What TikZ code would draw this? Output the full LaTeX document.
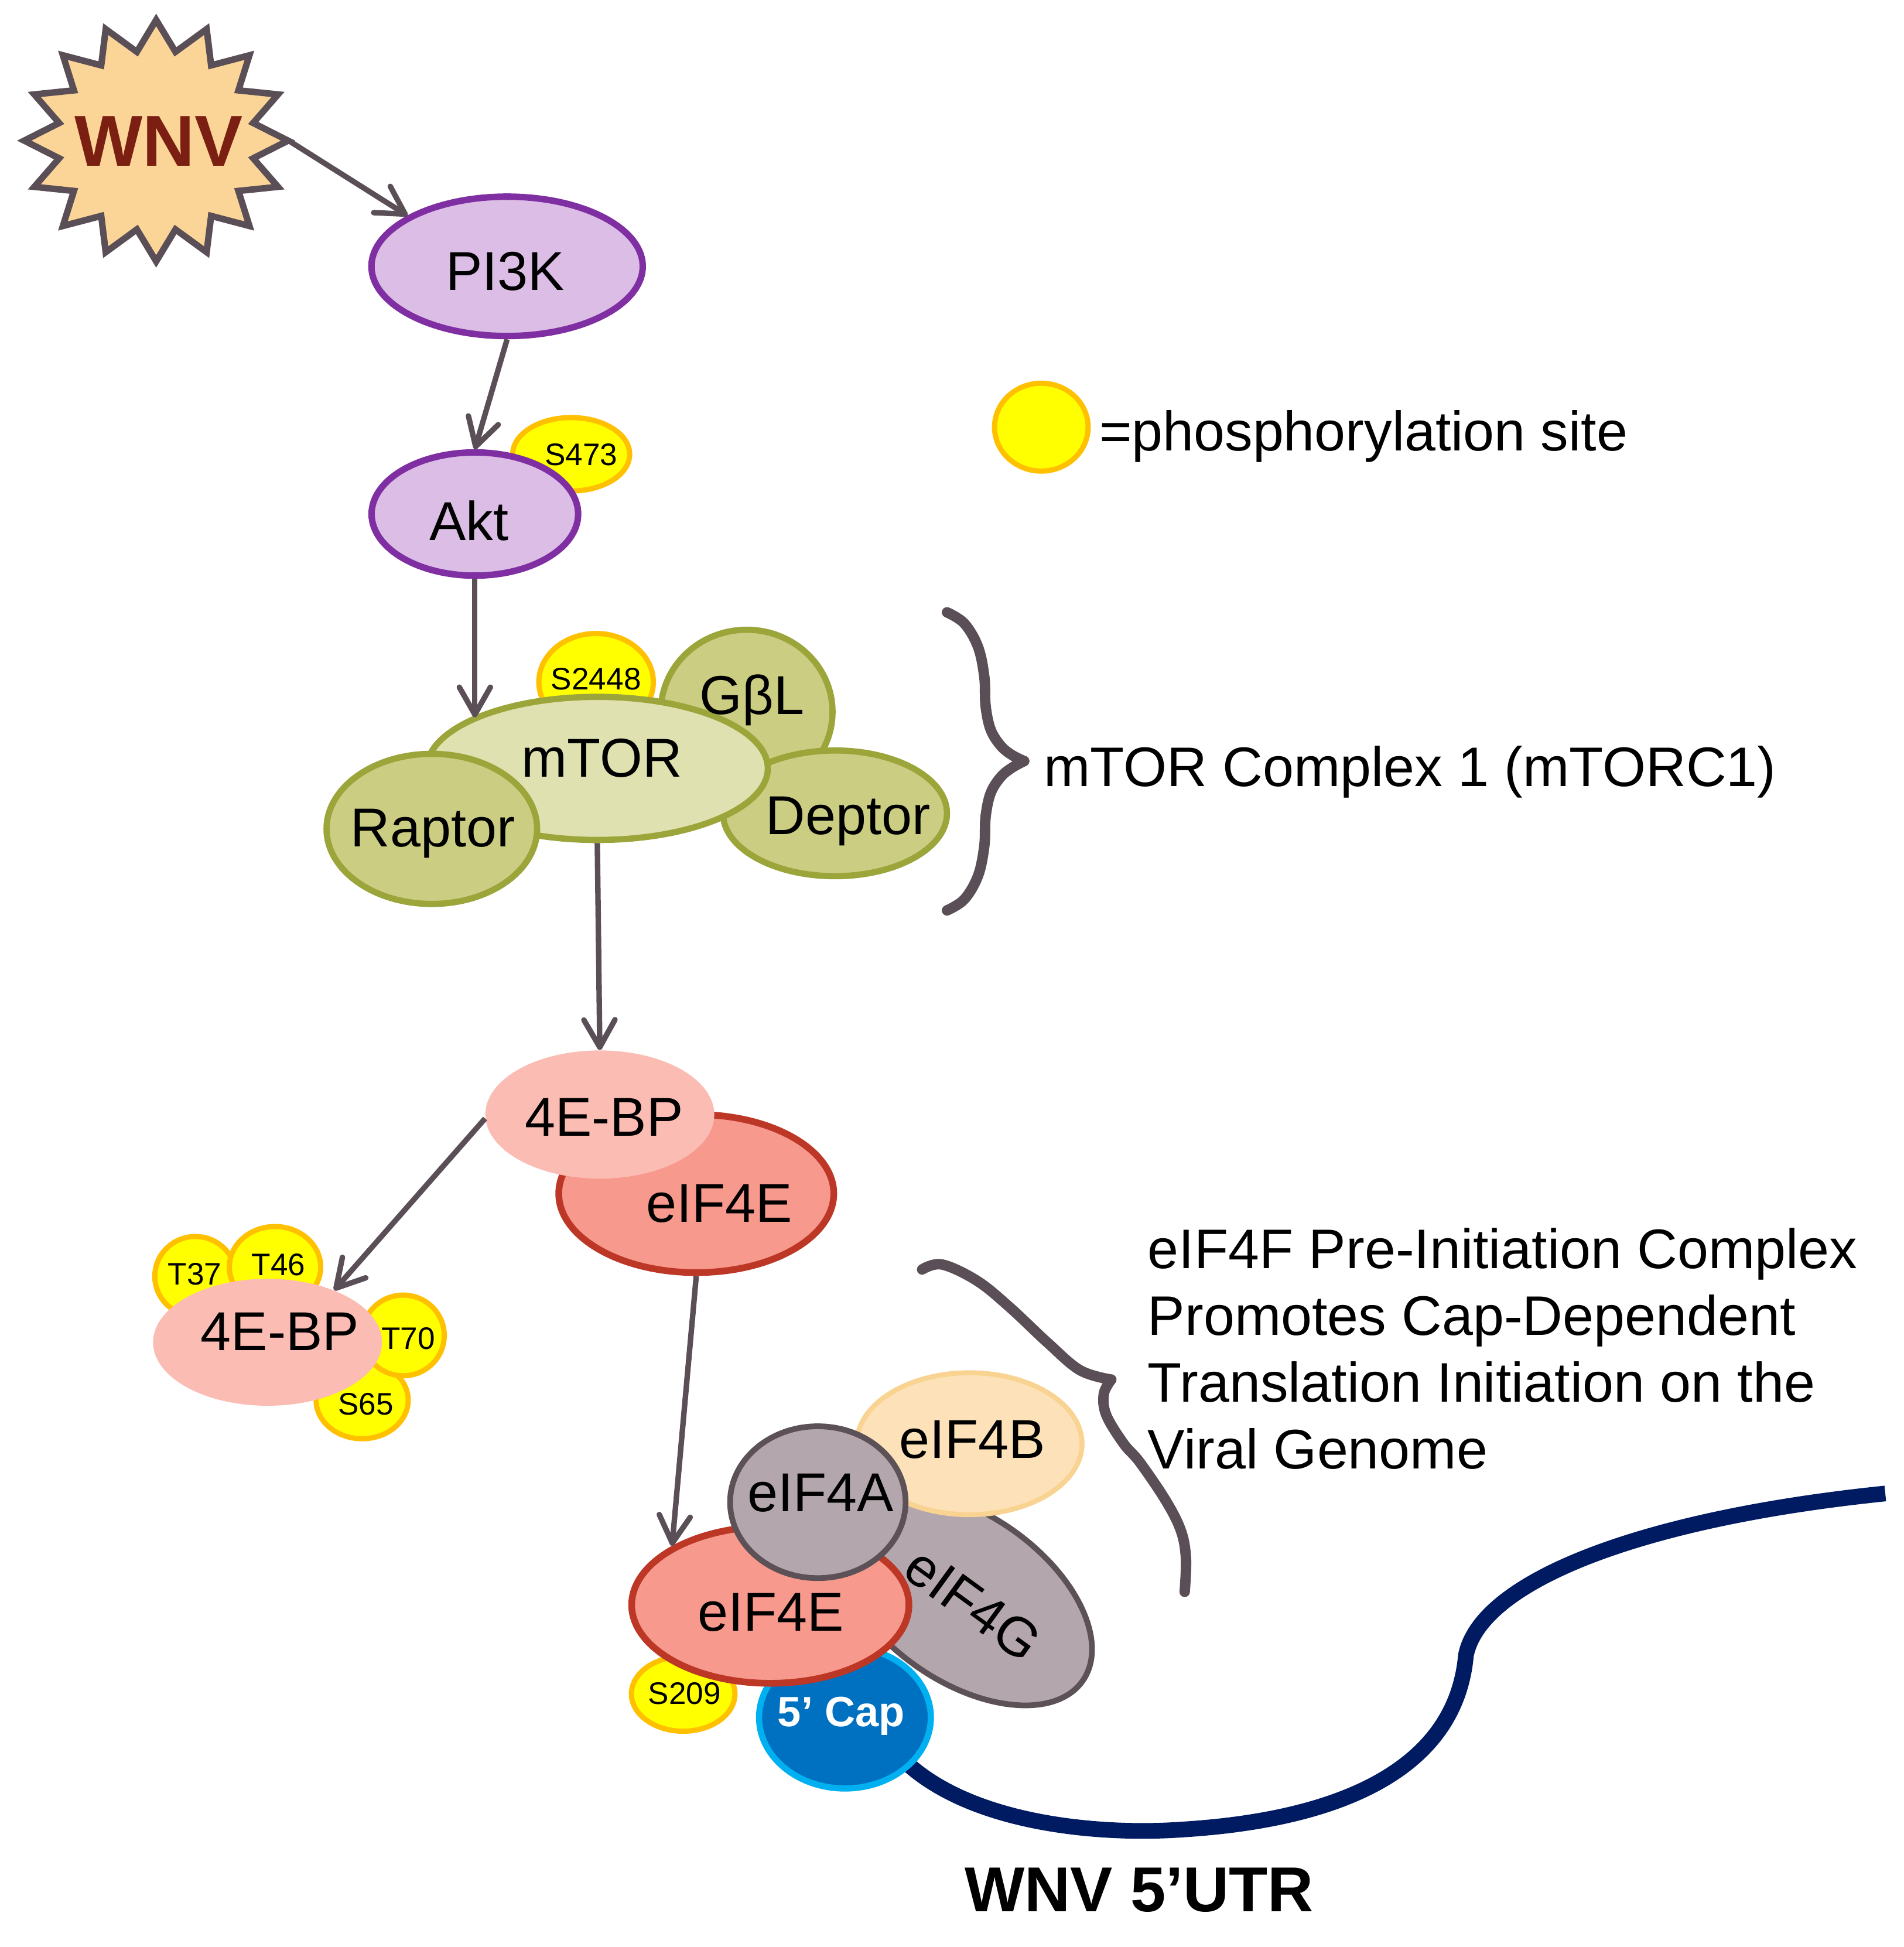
\documentclass[tikz,border=0pt]{standalone}
\usepackage{fontspec}
\setmainfont{Liberation Sans}
\usetikzlibrary{arrows.meta,shapes.geometric}
\definecolor{arrowgray}{HTML}{5A4F56}
\definecolor{starfill}{HTML}{FBD598}
\definecolor{wnvred}{HTML}{7C1F13}
\definecolor{purfill}{HTML}{DBBDE6}
\definecolor{purline}{HTML}{7F2FA2}
\definecolor{phyel}{HTML}{FFFF00}
\definecolor{phorange}{HTML}{FFC000}
\definecolor{olive}{HTML}{9BA53A}
\definecolor{mtorfill}{HTML}{DFE1B0}
\definecolor{olfill}{HTML}{CBCD82}
\definecolor{bpfill}{HTML}{FBBCB4}
\definecolor{efill}{HTML}{F7998C}
\definecolor{eline}{HTML}{BD3726}
\definecolor{grfill}{HTML}{B3A7AD}
\definecolor{grline}{HTML}{5C5157}
\definecolor{bfill}{HTML}{FDE2B9}
\definecolor{bline}{HTML}{F9D391}
\definecolor{capfill}{HTML}{0070C0}
\definecolor{capline}{HTML}{00B0F0}
\definecolor{rnacol}{HTML}{001B62}
\begin{document}
\begin{tikzpicture}[x=0.5pt,y=-0.5pt,
  blob/.style={ellipse, inner sep=0pt},
  sz/.style 2 args={minimum width=#1pt, minimum height=#2pt},
  purplebox/.style={blob, fill=purfill, draw=purline, line width=2.6pt},
  phos/.style={blob, fill=phyel, draw=phorange, line width=2.1pt},
  olivebox/.style={blob, fill=olfill, draw=olive, line width=2.5pt},
  bpbox/.style={blob, fill=bpfill},
  redbox/.style={blob, fill=efill, draw=eline, line width=2.7pt},
  graybox/.style={blob, fill=grfill, draw=grline, line width=2.3pt},
  lab/.style={font=\fontsize{22}{26}\selectfont, inner sep=0pt, anchor=base},
  plab/.style={font=\fontsize{12.5}{15}\selectfont, inner sep=0pt, anchor=base},
  bodytext/.style={font=\fontsize{22.4}{27}\selectfont, inner sep=0pt, anchor=base west},
  arr/.style={draw=arrowgray, line width=2.2pt, -{Straight Barb[length=11pt,width=12.5pt,round]}},
  bracesty/.style={draw=arrowgray, line width=4.2pt, line cap=round, line join=round},
  rnasty/.style={draw=rnacol, line width=6.3pt}
]
\useasboundingbox (0,0) rectangle (1530,1564.4);

% RNA (behind cap)
\draw[rnasty] (712,1398) .. controls (760,1465) and (880,1475) .. (950,1470)
  .. controls (1080,1462) and (1170,1420) .. (1178,1330)
  .. controls (1190,1270) and (1320,1220) .. (1515,1200);

% WNV star
\draw[fill=starfill, draw=arrowgray, line width=2.6pt, line join=miter]
  (231.5,113) \foreach \i in {1,...,31} {-- ({125.5+106*(1-0.25*mod(\i,2))*cos(\i*11.25)},{113+97*(1-0.25*mod(\i,2))*sin(\i*11.25)})} -- cycle;
\coordinate (wnvtip) at (232,113);
\node[font=\bfseries\fontsize{29}{30}\selectfont, text=wnvred, anchor=base, inner sep=0pt] (wnv) at (127.7,133.6) {WNV};

% PI3K / Akt
\node[phos, sz={47}{29.5}] (s473) at (459,365) {};
\node[purplebox, sz={109}{56}] (pi3k) at (407.5,214) {};
\node[purplebox, sz={83}{49.5}] (akt) at (381.6,413) {};

% mTORC1
\node[phos, sz={46}{39}] (s2448) at (479,548) {};
\node[olivebox, sz={69}{66}] (gbl) at (600,572) {};
\node[olivebox, sz={90}{50.5}] (deptor) at (671,653.5) {};
\node[olivebox, fill=mtorfill, sz={137}{57.5}] (mtor) at (480,617.4) {};
\node[olivebox, sz={84.6}{60.3}] (raptor) at (347,666) {};

% 4E-BP / eIF4E
\node[redbox, sz={110.5}{63.5}] (eif4ea) at (559.5,959) {};
\node[bpbox, sz={92}{51.5}] (bpa) at (482,895.5) {};

\node[phos, sz={32.6}{32}] (t37) at (157,1025.5) {};
\node[phos, sz={36.7}{32.5}] (t46) at (221,1018) {};
\node[phos, sz={37}{31}] (s65) at (291,1125) {};
\node[phos, sz={33}{32.4}] (t70) at (324,1073) {};
\node[bpbox, sz={92}{51}] (bpb) at (215,1078.5) {};

% eIF4F complex
\node[phos, sz={41.6}{30}] (s209) at (549,1361) {};
\node[blob, fill=capfill, draw=capline, line width=2.5pt, sz={69}{57}] (cap) at (679,1380) {};
\node[graybox, sz={116}{67}, rotate=-35] (eif4g) at (775,1284) {};
\node[redbox, sz={111.4}{63}] (eif4eb) at (619,1289.5) {};
\node[blob, fill=bfill, draw=bline, line width=2pt, sz={90.5}{57}] (eif4b) at (779,1160) {};
\node[graybox, sz={70.5}{61}] (eif4a) at (657.2,1207) {};

% legend
\node[phos, sz={37.6}{35.3}] (legend) at (836.8,343.2) {};

% braces
\draw[bracesty] plot[smooth, tension=0.6] coordinates {(761,492) (775,501) (786,520) (791,544) (792,567) (796,586) (804,599) (813,606.5) (823,611.5)};
\draw[bracesty] plot[smooth, tension=0.6] coordinates {(823,611.5) (813,617) (804,624.5) (796,637.5) (792,656.5) (791,679.5) (786,703.5) (775,722.5) (761,731.5)};
\draw[bracesty] plot[smooth, tension=0.6] coordinates {(741,1020) (757,1016) (785,1029) (811,1050) (842,1079) (868,1101) (893,1108.5)};
\draw[bracesty] plot[smooth, tension=0.6] coordinates {(893,1108.5) (887,1120) (889,1137) (903,1160) (916,1175) (937,1206) (949,1230) (953,1252) (952,1279)};

% labels
\node[lab] (pi3kt) at (406,233) {PI3K};
\node[lab] (aktt) at (377,434) {Akt};
\node[plab] (s473t) at (467,374) {S473};
\node[plab] (s2448t) at (479,554.3) {S2448};
\node[lab] (gblt) at (604.4,574) {GβL};
\node[lab] (deptort) at (681.6,670.4) {Deptor};
\node[lab] (mtort) at (483.7,624.5) {mTOR};
\node[lab] (raptort) at (347.8,680.3) {Raptor};
\node[lab] (bpat) at (485.4,912.8) {4E-BP};
\node[lab] (eif4eat) at (578,982) {eIF4E};
\node[lab] (bpbt) at (225,1085) {4E-BP};
\node[plab] (t37t) at (156.5,1032.3) {T37};
\node[plab] (t46t) at (223.8,1024.6) {T46};
\node[plab] (t70t) at (328,1084) {T70};
\node[plab] (s65t) at (294,1136.7) {S65};
\node[lab] (eif4at) at (659.5,1214.5) {eIF4A};
\node[lab] (eif4bt) at (781.5,1171.7) {eIF4B};
\node[lab] (eif4ebt) at (619.4,1310.5) {eIF4E};
\node[lab, anchor=center, rotate=-36] (eif4gt) at (782,1289) {eIF4G};
\node[plab] (s209t) at (550,1369.3) {S209};
\node[font=\bfseries\fontsize{17}{20}\selectfont, text=white, inner sep=0pt, anchor=base] (capt) at (676,1387.4) {5’ Cap};

\node[bodytext] (legendt) at (883,362) {=phosphorylation site};
\node[bodytext] (mtorc) at (838.5,632) {mTOR Complex 1 (mTORC1)};
\node[bodytext] (l1) at (922,1019) {eIF4F Pre-Initiation Complex};
\node[bodytext] (l2) at (922,1072.9) {Promotes Cap-Dependent};
\node[bodytext] (l3) at (922,1126.5) {Translation Initiation on the};
\node[bodytext] (l4) at (922,1180) {Viral Genome};
\node[font=\bfseries\fontsize{25.5}{30}\selectfont, inner sep=0pt, anchor=base] (utr) at (915.5,1535.8) {WNV 5’UTR};

% arrows
\draw[arr] (wnvtip) -- (pi3k.153);
\draw[arr] (pi3k.south) -- (akt.north);
\draw[arr] (akt.south) -- (akt.south |- mtor.158);
\draw[arr] (mtor.south) -- (bpa.north);
\draw[arr] (bpa.182) -- (bpb.38);
\draw[arr] (eif4ea.south) -- (eif4eb.149);
\end{tikzpicture}
\end{document}
